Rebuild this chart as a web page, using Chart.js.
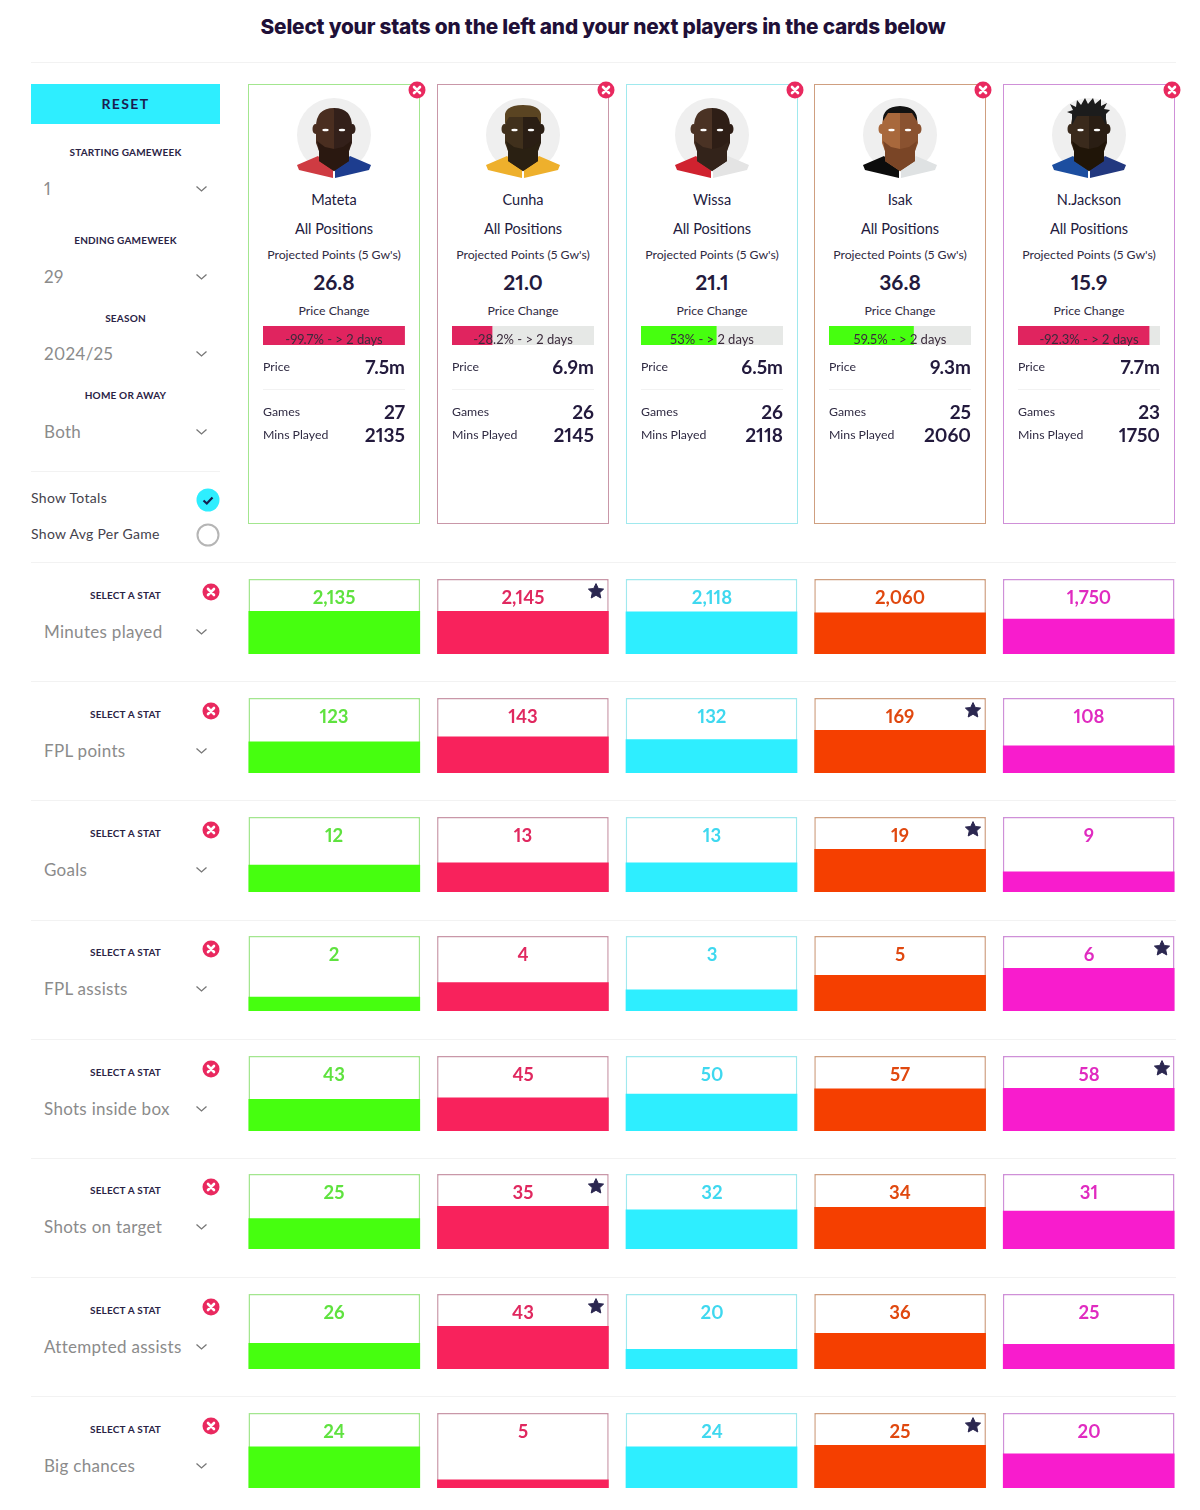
<!doctype html>
<html lang="en">
<head>
<meta charset="utf-8">
<title>Compare players</title>
<script src="https://cdn.jsdelivr.net/npm/chart.js"></script>
<style>
  html, body { margin: 0; padding: 0; background: #fff; }
  body { width: 1200px; height: 1510px; position: relative; overflow: hidden; font-family: Lato, "Open Sans", sans-serif; color: #231a3d; font-variant-numeric: proportional-nums; }
  .t { position: absolute; white-space: nowrap; transform: translateY(-50%); line-height: 1; }
  .c { transform: translate(-50%, -50%); }
  .r { transform: translate(-100%, -50%); }
  .title { font: 800 20.8px Inter, sans-serif; color: #1f1038; letter-spacing: -0.2px; margin-top: -0.5px; }
  .label { font-size: 10px; font-weight: 700; letter-spacing: 0.2px; color: #2a2345; margin-top: -0.5px; }
  .select { font-size: 17px; color: #8b8b8b; letter-spacing: 0.3px; margin-top: -1px; }
  .opt { font-size: 14px; color: #44424c; letter-spacing: 0.3px; }
  .name { font-size: 14.5px; color: #231a3d; }
  .small { font-size: 12.3px; color: #2f2a42; }
  .big { font-size: 21px; font-weight: 700; color: #231a3d; margin-top: -1px; }
  .num { font-size: 19px; font-weight: 700; color: #231a3d; margin-top: -1px; }
  .pct { font-size: 13px; color: #3b2b3c; }
  .val { font-size: 18.5px; font-weight: 700; margin-top: 0.5px; }
  .rule { position: absolute; height: 1px; background: #f2f2f2; }
  .card { position: absolute; box-sizing: border-box; border: 1.5px solid; }
  canvas, svg { position: absolute; display: block; }
  .reset { position: absolute; left: 31px; top: 84px; width: 189px; height: 40px; background: #2eeeff; }
</style>
</head>
<body>
<script>
// players and their card values
const players = ['Mateta', 'Cunha', 'Wissa', 'Isak', 'N.Jackson'];
const projected = ['26.8', '21.0', '21.1', '36.8', '15.9'];
const priceChange = [-99.7, -28.2, 53, 59.5, -92.3];
const prices = ['7.5m', '6.9m', '6.5m', '9.3m', '7.7m'];
const games = [27, 26, 26, 25, 23];
const minsPlayed = [2135, 2145, 2118, 2060, 1750];

// stat rows
const statNames = ['Minutes played', 'FPL points', 'Goals', 'FPL assists', 'Shots inside box', 'Shots on target', 'Attempted assists', 'Big chances'];
const minutesRow = [2135, 2145, 2118, 2060, 1750];
const pointsRow = [123, 143, 132, 169, 108];
const goalsRow = [12, 13, 13, 19, 9];
const assistsRow = [2, 4, 3, 5, 6];
const insideBoxRow = [43, 45, 50, 57, 58];
const onTargetRow = [25, 35, 32, 34, 31];
const attemptedRow = [26, 43, 20, 36, 25];
const bigChancesRow = [24, 5, 24, 25, 20];
const statRows = [minutesRow, pointsRow, goalsRow, assistsRow, insideBoxRow, onTargetRow, attemptedRow, bigChancesRow];

// sidebar filters
const filterLabels = ['STARTING GAMEWEEK', 'ENDING GAMEWEEK', 'SEASON', 'HOME OR AWAY'];
const filterValues = ['1', '29', '2024/25', 'Both'];

// styles
const fills = ['#46ff0f', '#f8225c', '#2eeeff', '#f53f00', '#f81ccd'];
const borders = ['#a3e68f', '#c997a8', '#a0e9ee', '#cf9f80', '#cf90d8'];
const inks = ['#5fe23f', '#e0285f', '#3fd8ef', '#e0480f', '#e02bc0'];
const cardX = [248, 437, 626, 814, 1003];
const rowTop = [579, 698, 817, 936, 1056, 1174, 1294, 1413];
const filterY = [[152, 188.5], [240, 276.5], [318, 354], [395, 431.5]];
const ruleY = [681, 800, 920, 1039, 1158, 1277, 1396];
const skins = [['#4a2e20', '#33201a'], ['#40301c', '#2a1e14'], ['#4a3224', '#2e1e16'], ['#a8683c', '#8a5230'], ['#3a2a1c', '#2a1e14']];
const shades = ['#2a1810', '#2a2012', '#33231a', '#7a4526', '#201508'];
const shirts = [['#cf3b42', '#1d3d8f'], ['#eeb02c', '#eeb02c'], ['#d0222f', '#e4e4e4'], ['#0c0c0c', '#dfe2e3'], ['#1c4ea0', '#22387f']];
const hair = [null, '#5a4422', null, '#111', '#1c1c1c'];

function text(x, y, str, cls, color) {
  const d = document.createElement('div');
  d.className = 't ' + cls;
  d.style.left = x + 'px';
  d.style.top = y + 'px';
  if (color) d.style.color = color;
  d.textContent = str;
  document.body.appendChild(d);
  return d;
}
function rule(x, y, w) {
  const d = document.createElement('div');
  d.className = 'rule';
  d.style.cssText = `left:${x}px;top:${y}px;width:${w}px`;
  document.body.appendChild(d);
}
function svg(x, y, w, h, inner) {
  document.body.insertAdjacentHTML('beforeend',
    `<svg style="left:${x}px;top:${y}px" width="${w}" height="${h}" viewBox="0 0 ${w} ${h}">${inner}</svg>`);
}
function chevron(y) {
  svg(195, y - 4, 13, 8, '<polyline points="1.5,1.5 6.5,6 11.5,1.5" fill="none" stroke="#777" stroke-width="1.3"/>');
}
function closeIcon(cx, cy) {
  svg(cx - 9, cy - 9, 18, 18, '<circle cx="9" cy="9" r="8.5" fill="#e9295f"/><path d="M6 6L12 12M12 6L6 12" stroke="#fff" stroke-width="2.6" stroke-linecap="round"/>');
}
function star(cx, cy) {
  svg(cx - 8, cy - 8, 16, 16, '<polygon points="8,0.6 10.3,5.5 15.6,6.1 11.7,9.7 12.8,15 8,12.3 3.2,15 4.3,9.7 0.4,6.1 5.7,5.5" fill="#2b2750" stroke="#2b2750" stroke-linejoin="round"/>');
}
function avatar(x, i) {
  const [sl, sr] = skins[i], [cl, cr] = shirts[i];
  let top = '';
  if (i === 1) top = `<path d="M27 29V19Q29 10 45 10Q61 10 63 19V29L59 22H31Z" fill="${hair[i]}"/>`;
  if (i === 3) top = `<path d="M28 26Q27 12 45 11Q63 12 62 26L57 18H33Z" fill="${hair[i]}"/>`;
  if (i === 4) top = `<path d="M28 30L28 19L23 17L29 15L26 9L32 12L33 5L37 10L41 3L44 9L49 3L51 9L57 4L57 11L63 8L60 14L66 15L62 19V30L57 21H33Z" fill="${hair[i]}"/>`;
  svg(x, 95, 90, 90,
    `<circle cx="45" cy="40" r="37" fill="#efefef"/>
     <path d="M8 70L29 61L44 72V83L10 75Z" fill="${cl}"/>
     <path d="M82 70L61 61L46 72V83L80 75Z" fill="${cr}"/>
     <path d="M29 60L44 71" stroke="#eee" stroke-width="1.4"/>
     <path d="M61 60L46 71" stroke="#eee" stroke-width="1.4"/>
     <ellipse cx="26.5" cy="34" rx="3" ry="5" fill="${sl}"/>
     <ellipse cx="63.5" cy="34" rx="3" ry="5" fill="${sr}"/>
     <path d="M45 13Q27 13 27 32V48L30 56V66L45 76Z" fill="${sl}"/>
     <path d="M45 13Q63 13 63 32V48L60 56V66L45 76Z" fill="${sr}"/>
     <path d="M28 46L36 52L45 54L54 52L62 46L60 56V66L45 76L30 66V56Z" fill="${shades[i]}"/>
     ${top}
     <ellipse cx="36.5" cy="35" rx="3.2" ry="1.3" fill="#fff"/>
     <ellipse cx="53" cy="35" rx="3.2" ry="1.3" fill="#fff"/>`);
}

// header and rules
text(603, 26, 'Select your stats on the left and your next players in the cards below', 'c title');
rule(31, 62, 1145);
rule(31, 471, 189);
rule(31, 562, 1145);
ruleY.forEach(y => rule(31, y, 1145));

// sidebar
document.body.insertAdjacentHTML('beforeend', '<div class="reset"></div>');
const resetText = text(125.5, 104, 'RESET', 'c label', '#1c1c50');
resetText.style.fontSize = '14px';
resetText.style.letterSpacing = '1.4px';
filterLabels.forEach((label, i) => {
  text(125.5, filterY[i][0], label, 'c label');
  text(44, filterY[i][1], filterValues[i], 'select');
  chevron(Math.ceil(filterY[i][1]));
});
text(31, 498, 'Show Totals', 'opt');
text(31, 534, 'Show Avg Per Game', 'opt');
svg(196, 488, 24, 24, '<circle cx="12" cy="12" r="11.5" fill="#2eeeff"/><polyline points="7.5,12.5 10.8,15.5 16.5,9.5" fill="none" stroke="#14214f" stroke-width="2.2"/>');
svg(196, 523, 24, 24, '<circle cx="12" cy="12" r="10.5" fill="#fff" stroke="#b5b5b5" stroke-width="2"/>');

// player cards
players.forEach((name, i) => {
  const x = cardX[i], mid = x + 86, left = x + 15, right = x + 157;
  document.body.insertAdjacentHTML('beforeend',
    `<div class="card" style="left:${x}px;top:84px;width:172px;height:440px;border-color:${borders[i]}"></div>`);
  closeIcon(x + 169, 90);
  avatar(x + 41, i);
  text(mid, 200, name, 'c name');
  text(mid, 229, 'All Positions', 'c name');
  text(mid, 255, "Projected Points (5 Gw's)", 'c small');
  text(mid, 281.5, projected[i], 'c big');
  text(mid, 311, 'Price Change', 'c small');

  // price change bar
  const cv = document.createElement('canvas');
  cv.width = 142; cv.height = 19;
  cv.style.left = left + 'px';
  cv.style.top = '326px';
  document.body.appendChild(cv);
  new Chart(cv, {
    type: 'bar',
    data: {
      labels: [name],
      datasets: [
        { data: [Math.abs(priceChange[i])], backgroundColor: priceChange[i] < 0 ? '#e0245f' : '#46ff0f', grouped: false, barPercentage: 1, categoryPercentage: 1 },
        { data: [100], backgroundColor: '#e6e8e6', grouped: false, barPercentage: 1, categoryPercentage: 1 }
      ]
    },
    options: {
      indexAxis: 'y', responsive: false, animation: false, layout: { padding: 0 },
      plugins: { legend: { display: false }, tooltip: { enabled: false } },
      scales: { x: { display: false, min: 0, max: 100 }, y: { display: false } }
    }
  });
  text(mid, 338.5, priceChange[i] + '% - > 2 days', 'c pct');

  text(left, 367, 'Price', 'small');
  text(right, 367, prices[i], 'r num');
  rule(left, 389, 142);
  text(left, 412, 'Games', 'small');
  text(right, 412, games[i], 'r num');
  text(left, 435, 'Mins Played', 'small');
  text(right, 435, minsPlayed[i], 'r num');
});

// stat rows, one chart per row
statRows.forEach((row, r) => {
  const top = rowTop[r], best = Math.max(...row);
  text(125.5, top + 16, 'SELECT A STAT', 'c label');
  text(44, top + 52.5, statNames[r], 'select');
  chevron(top + 53);
  closeIcon(211, top + 12.5);

  const cv = document.createElement('canvas');
  cv.width = 943; cv.height = 75;
  cv.style.left = '240px';
  cv.style.top = top + 'px';
  document.body.appendChild(cv);
  const yMax = best / 0.575;
  new Chart(cv, {
    type: 'bar',
    data: {
      labels: players,
      datasets: [
        { data: row, backgroundColor: fills, grouped: false, barPercentage: 1, categoryPercentage: 0.91 },
        { data: players.map(() => yMax), backgroundColor: '#fff', borderColor: borders, borderWidth: 1.5, grouped: false, barPercentage: 1, categoryPercentage: 0.91 }
      ]
    },
    options: {
      responsive: false, animation: false, layout: { padding: 0 },
      plugins: { legend: { display: false }, tooltip: { enabled: false } },
      scales: { x: { display: false }, y: { display: false, min: 0, max: yMax } }
    }
  });

  row.forEach((v, i) => {
    text(cardX[i] + 86, top + 17, v.toLocaleString('en-US'), 'c val', inks[i]);
    if (v === best) star(cardX[i] + 159, top + 12);
  });
});
</script>
</body>
</html>
